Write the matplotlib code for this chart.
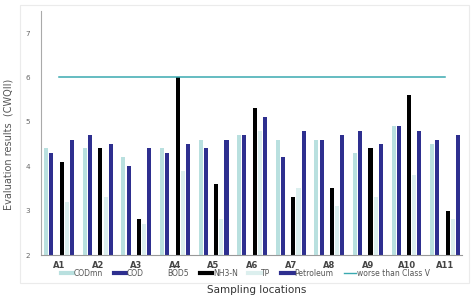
"""Grouped bar chart of evaluation results (CWQII) by sampling location."""

import matplotlib.pyplot as plt
import numpy as np
from matplotlib.patches import Rectangle
from matplotlib.lines import Line2D

locations = ["A1", "A2", "A3", "A4", "A5", "A6", "A7", "A8", "A9", "A10", "A11"]
codmn = [4.4, 4.4, 4.2, 4.4, 4.6, 4.7, 4.6, 4.6, 4.3, 4.9, 4.5]
cod = [4.3, 4.7, 4.0, 4.3, 4.4, 4.7, 4.2, 4.6, 4.8, 4.9, 4.6]
bod5 = [4.0, 4.0, 4.0, 4.0, 4.0, 4.0, 4.0, 4.0, 4.0, 4.0, 4.0]
nh3n = [4.1, 4.4, 2.8, 6.0, 3.6, 5.3, 3.3, 3.5, 4.4, 5.6, 3.0]
tp = [3.2, 3.3, 2.7, 3.9, 2.8, 4.8, 3.5, 3.1, 3.3, 3.8, 2.8]
petroleum = [4.6, 4.5, 4.4, 4.5, 4.6, 5.1, 4.8, 4.7, 4.5, 4.8, 4.7]
class_v = 6.0

series = [
    ("CODmn", codmn, "#b9e0df"),
    ("COD", cod, "#2e2f8f"),
    ("BOD5", bod5, "#ffffff"),
    ("NH3-N", nh3n, "#000000"),
    ("TP", tp, "#dcefee"),
    ("Petroleum", petroleum, "#2e2f8f"),
]

fig = plt.figure(figsize=(4.72, 2.96), dpi=100)
fig.patches.append(
    Rectangle((0.042, 0.044), 0.952, 0.939, transform=fig.transFigure,
              fill=False, edgecolor="#ebebeb", linewidth=0.8)
)
ax = fig.add_axes([0.087, 0.1385, 0.892, 0.825])

x = np.arange(len(locations))
pitch = 0.134
width = 0.105
handles = []
for i, (name, vals, color) in enumerate(series):
    offs = (i - 2.5) * pitch
    heights = np.array(vals) - 2
    ax.bar(x + offs, heights, width, bottom=2, color=color, linewidth=0)
    handles.append(Line2D([], [], color=color, linewidth=3, label=name))

ax.plot(x, [class_v] * len(x), color="#3aa9b0", linewidth=1.1)
handles.append(Line2D([], [], color="#3aa9b0", linewidth=1.0,
                      label="worse than Class V"))

ax.set_xlim(-0.47, 10.44)
ax.set_ylim(2, 7.5)
ax.set_yticks([2, 3, 4, 5, 6, 7])
ax.set_xticks(x)
ax.set_xticklabels(locations, fontsize=6, fontweight="bold", color="#444444")
ax.tick_params(axis="both", length=0, pad=4)
ax.tick_params(axis="y", labelsize=5.2, labelcolor="#666666", pad=8)
for side in ["top", "right"]:
    ax.spines[side].set_visible(False)
ax.spines["left"].set_color("#aaaaaa")
ax.spines["bottom"].set_color("#999999")
ax.spines["left"].set_linewidth(0.8)
ax.spines["bottom"].set_linewidth(0.8)

fig.legend(handles=handles, loc="center", bbox_to_anchor=(0.52, 1 - 273 / 296),
           ncol=7, frameon=False, fontsize=5.5, handlelength=1.6,
           handletextpad=0.1, columnspacing=1.4, labelcolor="#555555")

fig.text(0.017, 1 - 144 / 296, "Evaluation results  (CWQII)", rotation=90,
         ha="center", va="center", fontsize=7, color="#555555")
fig.text(257 / 472, 1 - 290 / 296, "Sampling locations", ha="center",
         va="center", fontsize=7.5, color="#333333")

fig.savefig("out.png", dpi=100)
